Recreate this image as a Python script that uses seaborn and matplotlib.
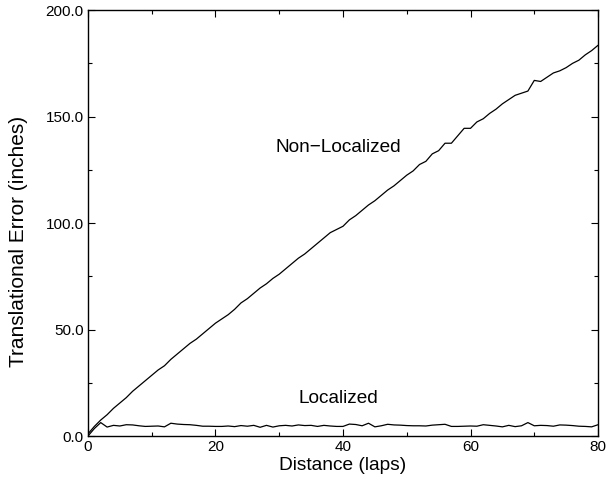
import matplotlib
matplotlib.use("Agg")
import matplotlib.pyplot as plt
from matplotlib.ticker import MultipleLocator, FormatStrFormatter
import seaborn as sns
import pandas as pd

laps = list(range(0, 81))
non_localized = [
    1.0, 4.5, 7.5, 10.0, 13.0, 15.5, 18.0, 21.0, 23.5, 26.0,
    28.5, 31.0, 33.0, 36.0, 38.5, 41.0, 43.5, 45.5, 48.0, 50.5,
    53.0, 55.0, 57.0, 59.5, 62.5, 64.5, 67.0, 69.5, 71.5, 74.0,
    76.0, 78.5, 81.0, 83.5, 85.5, 88.0, 90.5, 93.0, 95.5, 97.0,
    98.5, 101.5, 103.5, 106.0, 108.5, 110.5, 113.0, 115.5, 117.5, 120.0,
    122.5, 124.5, 127.5, 129.0, 132.5, 134.0, 137.5, 137.5, 141.0, 144.5,
    144.5, 147.5, 149.0, 151.5, 153.5, 156.0, 158.0, 160.0, 161.0, 162.0,
    167.0, 166.5, 168.5, 170.5, 171.5, 173.0, 175.0, 176.5, 179.0, 181.0,
    183.5,
]
localized = [
    0.0, 3.5, 6.3, 4.2, 5.0, 4.7, 5.3, 5.2, 4.8, 4.5,
    4.6, 4.7, 4.3, 6.0, 5.6, 5.4, 5.3, 5.0, 4.6, 4.6,
    4.5, 4.5, 4.7, 4.4, 4.9, 4.6, 5.0, 4.1, 5.0, 4.2,
    4.8, 5.0, 4.7, 5.2, 4.9, 5.0, 4.5, 5.0, 4.7, 4.5,
    4.5, 5.6, 5.4, 4.8, 6.0, 4.3, 4.8, 5.5, 5.2, 5.1,
    4.9, 4.8, 4.8, 4.7, 5.1, 5.3, 5.5, 4.5, 4.5, 4.6,
    4.7, 4.6, 5.3, 5.0, 4.7, 4.3, 5.0, 4.4, 4.8, 6.3,
    4.8, 5.0, 4.9, 4.6, 5.2, 5.1, 4.9, 4.6, 4.5, 4.3,
    5.3,
]
x_ticks = [0, 20, 40, 60, 80]
y_ticks = [0, 50, 100, 150, 200]

sns.set_style("ticks")
plt.rcParams['font.family'] = ['Liberation Sans', 'DejaVu Sans']
plt.rcParams['text.color'] = 'black'
plt.rcParams['axes.labelcolor'] = 'black'
plt.rcParams['xtick.color'] = 'black'
plt.rcParams['ytick.color'] = 'black'
plt.rcParams['xtick.direction'] = 'in'
plt.rcParams['ytick.direction'] = 'in'

df = pd.DataFrame({"laps": laps, "non": non_localized, "loc": localized})

fig = plt.figure(figsize=(6.08, 4.83), dpi=100)
ax = fig.add_axes([0.1447, 0.0973, 0.8389, 0.8817])

sns.lineplot(data=df, x="laps", y="non", color="black", linewidth=0.9, ax=ax)
sns.lineplot(data=df, x="laps", y="loc", color="black", linewidth=0.9, ax=ax)

ax.set_xlim(0, 80)
ax.set_ylim(0, 200)
ax.set_xticks(x_ticks)
ax.set_yticks(y_ticks)
ax.xaxis.set_minor_locator(MultipleLocator(10))
ax.yaxis.set_minor_locator(MultipleLocator(25))
ax.yaxis.set_major_formatter(FormatStrFormatter('%.1f'))
ax.tick_params(which='both', top=True, right=True, direction='in',
               labelsize=11, width=0.8, colors='black')
ax.tick_params(which='major', length=5, pad=3)
ax.tick_params(which='minor', length=3)
for s in ax.spines.values():
    s.set_linewidth(1.0)
    s.set_color('black')

ax.set_xlabel("Distance (laps)", fontsize=13.8, labelpad=2)
ax.set_ylabel("Translational Error (inches)", fontsize=15)
ax.yaxis.set_label_coords(-0.118, 0.458)

ax.text(39.2, 135.5, "Non\u2212Localized", fontsize=13.7, ha="center", va="center")
ax.text(39.2, 17.8, "Localized", fontsize=13.7, ha="center", va="center")

fig.savefig("out.png", dpi=100)
